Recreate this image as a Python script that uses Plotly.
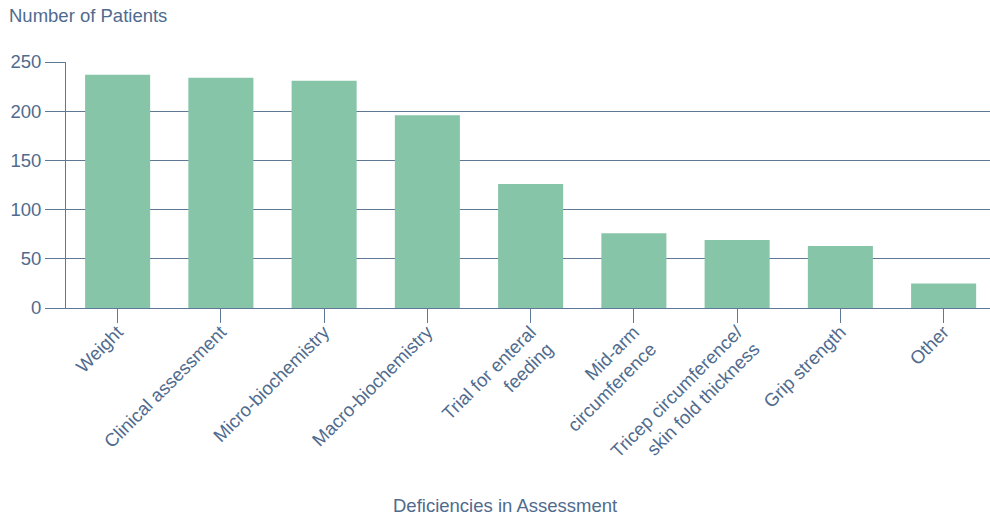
import plotly.graph_objects as go

categories = [
    "Weight",
    "Clinical assessment",
    "Micro-biochemistry",
    "Macro-biochemistry",
    "Trial for enteral<br>feeding",
    "Mid-arm<br>circumference",
    "Tricep circumference/<br>skin fold thickness",
    "Grip strength",
    "Other",
]
patients = [237, 234, 231, 196, 126, 76, 69, 63, 25]
y_ticks = [0, 50, 100, 150, 200, 250]

W, H = 990, 517
L, R, T, B = 66, 0, 62, 209
TEXT = "#4f6b8e"
LINE = "#5f7896"
BAR = "#87c5a9"
FONT = "Liberation Sans, Arial, sans-serif"
FS = 18.5

fig = go.Figure(go.Bar(
    x=list(range(len(categories))),
    y=patients,
    marker=dict(color=BAR, line=dict(width=0)),
    hoverinfo="skip",
))

pw = W - L - R
ph = H - T - B

fig.update_layout(
    width=W, height=H,
    margin=dict(l=L, r=R, t=T, b=B, autoexpand=False),
    paper_bgcolor="white", plot_bgcolor="white",
    bargap=0.37,
    showlegend=False,
    font=dict(family=FONT, size=FS, color=TEXT),
    title=dict(text="Number of Patients", x=9 / W, xref="container", xanchor="left",
               y=1 - 16 / H, yref="container", yanchor="middle",
               font=dict(family=FONT, size=FS, color=TEXT)),
    xaxis=dict(
        range=[-0.5, -0.5 + pw / 103.25],
        tickmode="array",
        tickvals=list(range(len(categories))),
        ticktext=categories,
        tickangle=-45,
        tickson="boundaries",
        ticks="outside", ticklen=14, tickcolor=LINE, tickwidth=1,
        ticklabelstandoff=-9,
        showline=True, linecolor=LINE, linewidth=1,
        showgrid=False, zeroline=False,
        tickfont=dict(family=FONT, size=FS, color=TEXT),
        automargin=False,
    ),
    yaxis=dict(
        range=[0, 250],
        tickmode="array", tickvals=y_ticks,
        ticks="outside", ticklen=20, tickcolor=LINE, tickwidth=1,
        showgrid=True, gridcolor=LINE, gridwidth=1,
        showline=True, linecolor=LINE, linewidth=1,
        zeroline=False,
        tickfont=dict(family=FONT, size=FS, color=TEXT),
        automargin=False,
    ),
    annotations=[dict(
        text="Deficiencies in Assessment",
        xref="paper", yref="paper",
        x=(505 - L) / pw, y=-(505 - (T + ph)) / ph,
        xanchor="center", yanchor="middle", showarrow=False,
        font=dict(family=FONT, size=FS, color=TEXT),
    )],
)

fig.write_html("out.html")
